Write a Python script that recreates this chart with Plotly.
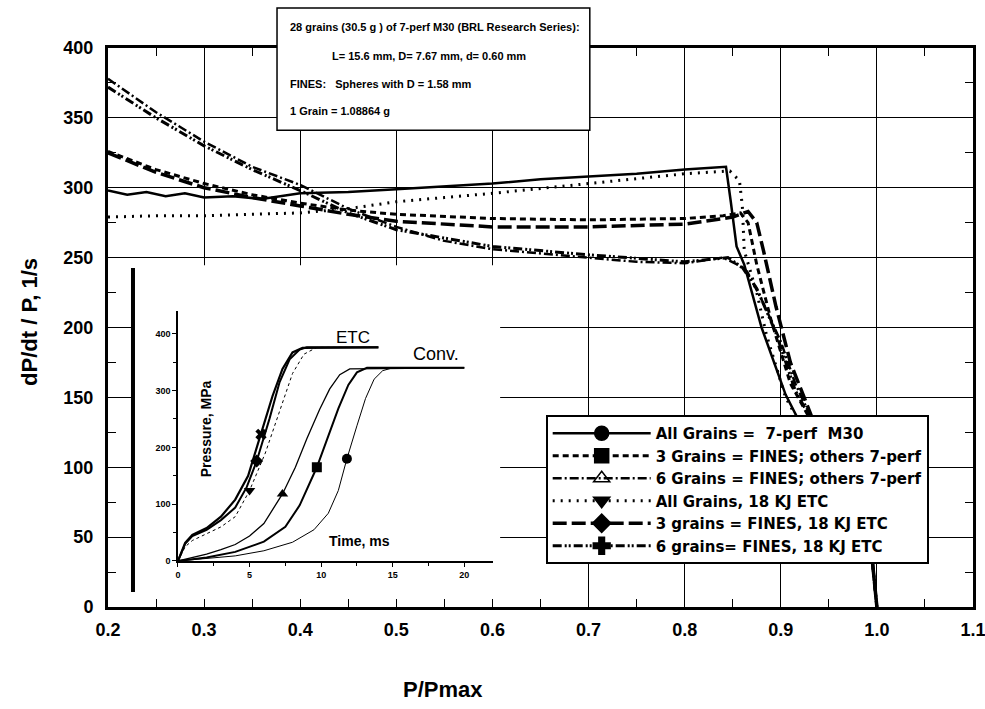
import plotly.graph_objects as go

# ---------------- main chart data (P/Pmax vs dP/dt / P) ----------------
names = [
    "All Grains =  7-perf  M30",
    "3 Grains = FINES; others 7-perf",
    "6 Grains = FINES; others 7-perf",
    "All Grains, 18 KJ ETC",
    "3 grains = FINES, 18 KJ ETC",
    "6 grains= FINES, 18 KJ ETC",
]

s1_x = [0.2, 0.22, 0.24, 0.26, 0.28, 0.30, 0.33, 0.36, 0.40, 0.45, 0.50, 0.55, 0.60, 0.65, 0.70, 0.75, 0.80, 0.843,
        0.848, 0.854, 0.862, 0.88, 0.905, 0.925, 0.96, 0.995, 1.0]
s1_y = [298, 295, 297, 294, 296, 293, 294, 292, 296, 297, 299, 301, 303, 306, 308, 310, 313, 315,
        290, 258, 245, 200, 152, 125, 80, 35, 0]

s2_x = [0.2, 0.25, 0.3, 0.35, 0.4, 0.45, 0.5, 0.6, 0.7, 0.8, 0.84, 0.858, 0.866, 0.875, 0.89, 0.91, 0.93, 0.96, 0.995, 1.0]
s2_y = [326, 313, 303, 295, 289, 284, 281, 278, 277, 278, 280, 282, 275, 245, 205, 160, 135, 85, 35, 0]

s3_x = [0.2, 0.25, 0.3, 0.35, 0.4, 0.45, 0.5, 0.55, 0.6, 0.7, 0.75, 0.8, 0.84, 0.855, 0.865, 0.88, 0.9, 0.915, 0.932, 0.96, 0.995, 1.0]
s3_y = [378, 354, 333, 315, 302, 285, 272, 262, 256, 250, 247, 246, 250, 245, 240, 220, 190, 160, 135, 85, 35, 0]

s4_x = [0.2, 0.25, 0.3, 0.35, 0.4, 0.45, 0.5, 0.55, 0.6, 0.7, 0.8, 0.847, 0.857, 0.86, 0.862, 0.875, 0.885, 0.905, 0.925, 0.96, 0.995, 1.0]
s4_y = [279, 280, 280, 281, 282, 285, 290, 293, 296, 303, 310, 312, 305, 287, 255, 225, 195, 150, 125, 80, 35, 0]

s5_x = [0.2, 0.25, 0.3, 0.35, 0.4, 0.45, 0.5, 0.6, 0.7, 0.8, 0.85, 0.866, 0.875, 0.882, 0.895, 0.91, 0.93, 0.96, 0.995, 1.0]
s5_y = [325, 311, 300, 293, 287, 281, 276, 272, 272, 274, 279, 283, 275, 255, 215, 175, 140, 85, 35, 0]

s6_x = [0.2, 0.25, 0.3, 0.35, 0.4, 0.45, 0.5, 0.6, 0.7, 0.8, 0.845, 0.86, 0.875, 0.895, 0.915, 0.935, 0.96, 0.995, 1.0]
s6_y = [372, 350, 330, 313, 298, 282, 270, 258, 252, 247, 250, 243, 228, 196, 155, 130, 85, 35, 0]

# ---------------- inset data (Time, ms vs Pressure, MPa) ----------------
circ_t = [0, 2, 4, 6, 8, 9.5, 10.5, 11.2, 11.8, 12.5, 13.1, 13.7, 14.3, 15, 20]
circ_p = [0, 4, 9, 18, 33, 55, 84, 124, 180, 238, 286, 320, 335, 340, 340]
sq_t = [0, 2, 4, 6, 7.5, 8.5, 9.7, 10.5, 11.2, 11.9, 12.5, 13.2, 20]
sq_p = [0, 6, 16, 34, 60, 98, 165, 220, 268, 310, 332, 340, 340]
tri_t = [0, 1, 2, 3, 4, 5, 6, 7.3, 8.2, 9, 9.9, 10.6, 11.3, 12, 20]
tri_p = [0, 6, 12, 20, 29, 44, 66, 118, 165, 215, 267, 303, 328, 338, 340]
itri_t = [0, 0.5, 1, 2, 3, 4, 5, 6.1, 7.1, 8, 8.8, 9.7, 14]
itri_p = [0, 25, 36, 48, 60, 78, 124, 190, 265, 330, 364, 376, 376]
dia_t = [0, 0.5, 1, 2, 3, 4, 4.8, 5.5, 6.4, 7.1, 7.8, 8.5, 9, 14]
dia_p = [0, 30, 44, 55, 72, 94, 130, 176, 251, 315, 355, 372, 376, 376]
crs_t = [0, 0.5, 1, 2, 3, 4, 4.9, 5.8, 6.6, 7.3, 8.0, 8.7, 14]
crs_p = [0, 32, 46, 58, 78, 108, 150, 223, 290, 338, 367, 375, 376]

# marker positions on the inset curves
mark_t = [11.8, 9.7, 7.3, 5.0, 5.5, 5.8]
mark_p = [180, 165, 118, 124, 176, 223]

FONT = "Liberation Sans, Arial, sans-serif"
LEGFONT = "DejaVu Sans, sans-serif"
symbols = ["circle", "square", "triangle-up-open", "triangle-down", "diamond", "cross"]
dashes = ["solid", "6px,4px", "9px,3px,2px,3px", "2px,6px", "14px,5px", "9px,3px,2px,2px,2px,3px"]
widths = [2.5, 3, 2.5, 3, 3.5, 3]

fig = go.Figure()

# white panel behind the inset (hides main grid there)
fig.add_trace(go.Scatter(x=[0.226, 0.608, 0.608, 0.226, 0.226], y=[0, 0, 244.5, 244.5, 0],
                         fill="toself", fillcolor="white", line=dict(width=0), mode="lines",
                         hoverinfo="skip", showlegend=False))

main_x = [s1_x, s2_x, s3_x, s4_x, s5_x, s6_x]
main_y = [s1_y, s2_y, s3_y, s4_y, s5_y, s6_y]
for i in range(6):
    fig.add_trace(go.Scatter(x=main_x[i], y=main_y[i], mode="lines",
                             line=dict(color="black", width=widths[i], dash=dashes[i]),
                             showlegend=False))

# legend entries
for i in range(6):
    fig.add_trace(go.Scatter(x=[None], y=[None], mode="lines+markers", name=names[i],
                             line=dict(color="black", width=widths[i], dash=dashes[i]),
                             marker=dict(symbol=symbols[i], size=14, color="black",
                                         line=dict(color="black", width=1.5))))

# inset curves
ins_t = [circ_t, sq_t, tri_t, itri_t, dia_t, crs_t]
ins_p = [circ_p, sq_p, tri_p, itri_p, dia_p, crs_p]
ins_w = [1, 2, 1.3, 1, 2, 2.2]
ins_dash = ["solid", "solid", "solid", "dot", "solid", "solid"]
ins_sym = ["circle", "square", "triangle-up", "triangle-down", "diamond", "x"]
for i in range(6):
    fig.add_trace(go.Scatter(x=ins_t[i], y=ins_p[i], mode="lines", xaxis="x2", yaxis="y2",
                             line=dict(color="black", width=ins_w[i], dash=ins_dash[i]),
                             showlegend=False))
    fig.add_trace(go.Scatter(x=[mark_t[i]], y=[mark_p[i]], mode="markers", xaxis="x2", yaxis="y2",
                             marker=dict(symbol=ins_sym[i], size=10, color="black"),
                             showlegend=False))

axis_font = dict(family=FONT, size=18, color="black", weight="bold")

fig.update_layout(
    width=985, height=709,
    margin=dict(l=108, r=12, t=48, b=102, autoexpand=False),
    paper_bgcolor="white", plot_bgcolor="white",
    font=dict(family=FONT, color="black"),
    showlegend=True,
    legend=dict(x=0.506, y=0.3435, xanchor="left", yanchor="top",
                bgcolor="white", bordercolor="black", borderwidth=2,
                font=dict(family=LEGFONT, size=15, color="black", weight="bold"),
                itemwidth=98, tracegroupgap=0),
    xaxis=dict(range=[0.2, 1.1], dtick=0.1, tick0=0.2, tickformat=".1f",
               showgrid=True, gridcolor="black", gridwidth=1,
               showline=True, linecolor="black", linewidth=3, mirror="allticks",
               ticks="inside", ticklen=8, tickcolor="black", tickwidth=1,
               minor=dict(dtick=0.05, ticks="inside", ticklen=8, tickcolor="black", showgrid=False),
               tickfont=axis_font, zeroline=False, ticklabelstandoff=4, automargin=False,
               ticklabeloverflow="allow"),
    yaxis=dict(range=[0, 400], dtick=50,
               showgrid=True, gridcolor="black", gridwidth=1,
               showline=True, linecolor="black", linewidth=3, mirror="allticks",
               ticks="inside", ticklen=8, tickcolor="black", tickwidth=1,
               minor=dict(dtick=25, ticks="inside", ticklen=8, tickcolor="black", showgrid=False),
               tickfont=axis_font, zeroline=False, ticklabelstandoff=8, automargin=False,
               ticklabeloverflow="allow"),
    xaxis2=dict(domain=[0.0809, 0.445], anchor="y2", range=[0, 22],
                tickvals=[0, 5, 10, 15, 20], showgrid=False, zeroline=False,
                showline=True, linecolor="black", linewidth=1.5,
                ticks="outside", ticklen=4, tickcolor="black",
                minor=dict(dtick=2.5, ticks="outside", ticklen=3, tickcolor="black"),
                tickfont=dict(family=FONT, size=9, color="black", weight="bold"), automargin=False),
    yaxis2=dict(domain=[0.0823, 0.5295], anchor="x2", range=[0, 440],
                tickvals=[0, 100, 200, 300, 400], showgrid=False, zeroline=False,
                showline=True, linecolor="black", linewidth=1.5,
                ticks="outside", ticklen=4, tickcolor="black",
                minor=dict(dtick=50, ticks="outside", ticklen=3, tickcolor="black"),
                tickfont=dict(family=FONT, size=9, color="black", weight="bold"), automargin=False),
)

# thick vertical bar at the left of the inset
fig.add_shape(type="line", xref="x", yref="y", x0=0.226, x1=0.226, y0=10.7, y1=242.6,
              line=dict(color="black", width=4))

# info box
fig.add_shape(type="rect", xref="paper", yref="paper", x0=0.1954, x1=0.557, y0=0.853, y1=1.0716,
              fillcolor="white", line=dict(color="black", width=1.5), layer="above")
info_lines = [
    ("28 grains (30.5 g ) of 7-perf M30 (BRL Research Series):", 0.208, 1.0376),
    ("L= 15.6 mm, D= 7.67 mm, d= 0.60 mm", 0.2566, 0.9857),
    ("FINES:   Spheres with D = 1.58 mm", 0.208, 0.9356),
    ("1 Grain = 1.08864 g", 0.208, 0.8873),
]
for txt, xx, yy in info_lines:
    fig.add_annotation(text=txt.replace("   ", "&nbsp;&nbsp;&nbsp;"), x=xx, y=yy, xref="paper", yref="paper",
                       xanchor="left", yanchor="middle", showarrow=False,
                       font=dict(family=FONT, size=11, color="black", weight="bold"))

# axis titles
fig.add_annotation(text="dP/dt / P, 1/s", x=-0.0902, y=0.51, xref="paper", yref="paper",
                   textangle=-90, showarrow=False, xanchor="center", yanchor="middle",
                   font=dict(family=FONT, size=22, color="black", weight="bold"))
fig.add_annotation(text="P/Pmax", x=0.387, y=-0.148, xref="paper", yref="paper",
                   showarrow=False, xanchor="center", yanchor="middle",
                   font=dict(family=FONT, size=22, color="black", weight="bold"))

# inset labels
fig.add_annotation(text="ETC", x=12.2, y=374, xref="x2", yref="y2", showarrow=False,
                   xanchor="center", yanchor="bottom", font=dict(family=FONT, size=17, color="black"))
fig.add_annotation(text="Conv.", x=18.0, y=344, xref="x2", yref="y2", showarrow=False,
                   xanchor="center", yanchor="bottom", font=dict(family=FONT, size=18, color="black"))
fig.add_annotation(text="Pressure, MPa", x=1.96, y=232, xref="x2", yref="y2", showarrow=False,
                   textangle=-90, xanchor="center", yanchor="middle",
                   font=dict(family=FONT, size=14, color="black", weight="bold"))
fig.add_annotation(text="Time, ms", x=12.7, y=36, xref="x2", yref="y2", showarrow=False,
                   xanchor="center", yanchor="middle",
                   font=dict(family=FONT, size=14, color="black", weight="bold"))

fig.write_html("out.html")
